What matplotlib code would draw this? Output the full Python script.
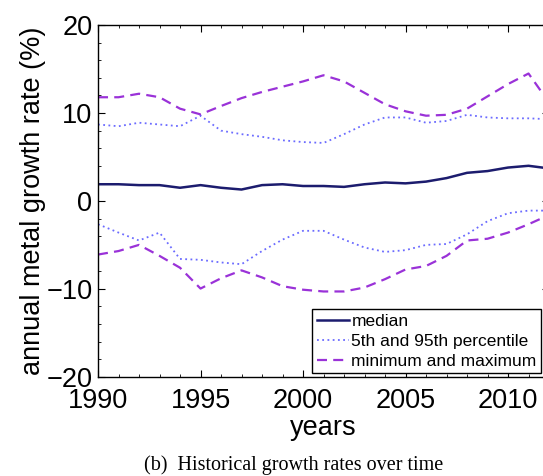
import matplotlib
matplotlib.use("Agg")
import matplotlib.pyplot as plt
from matplotlib.ticker import MultipleLocator

years = list(range(1990, 2013))
median = [1.9, 1.9, 1.8, 1.8, 1.5, 1.8, 1.5, 1.3, 1.8, 1.9, 1.7, 1.7, 1.6, 1.9, 2.1,
          2.0, 2.2, 2.6, 3.2, 3.4, 3.8, 4.0, 3.7]
p95 = [8.7, 8.5, 8.9, 8.7, 8.5, 9.7, 8.0, 7.6, 7.3, 6.9, 6.7, 6.6, 7.6, 8.7, 9.5,
       9.5, 8.9, 9.1, 9.8, 9.5, 9.4, 9.4, 9.3]
p5 = [-2.65, -3.6, -4.5, -3.6, -6.6, -6.7, -7.0, -7.2, -5.7, -4.4, -3.4, -3.4, -4.4,
      -5.3, -5.8, -5.6, -5.0, -4.9, -3.8, -2.3, -1.4, -1.1, -1.1]
vmax = [11.8, 11.8, 12.2, 11.8, 10.5, 9.85, 10.8, 11.7, 12.4, 13.0, 13.6, 14.3, 13.6,
        12.3, 11.0, 10.2, 9.7, 9.8, 10.5, 11.9, 13.3, 14.5, 11.2]
vmin = [-6.1, -5.7, -5.0, -6.25, -7.6, -9.97, -8.8, -7.9, -8.7, -9.7, -10.1, -10.3,
        -10.3, -9.85, -8.9, -7.8, -7.4, -6.25, -4.5, -4.3, -3.6, -2.65, -1.6]

plt.rcParams['font.family'] = ['Liberation Sans', 'DejaVu Sans']

fig = plt.figure(figsize=(5.43, 4.76), dpi=100)
ax = fig.add_axes([0.1805, 0.2086, 0.8306, 0.7385])

c_med = '#1c1c6e'
c_pct = '#6b6bff'
c_mm = '#9a32d8'
dot = (0, (1, 1.9))
dash = (0, (4.5, 2.8))

ax.plot(years, median, color=c_med, lw=1.8, label='median')
ax.plot(years, p95, color=c_pct, lw=1.3, ls=dot, label='5th and 95th percentile')
ax.plot(years, vmax, color=c_mm, lw=1.6, ls=dash, label='minimum and maximum')
ax.plot(years, p5, color=c_pct, lw=1.3, ls=dot)
ax.plot(years, vmin, color=c_mm, lw=1.6, ls=dash)

ax.set_xlim(1990, 2012)
ax.set_ylim(-20, 20)
ax.xaxis.set_major_locator(MultipleLocator(5))
ax.xaxis.set_minor_locator(MultipleLocator(1))
ax.yaxis.set_major_locator(MultipleLocator(10))
ax.yaxis.set_minor_locator(MultipleLocator(2))
ax.tick_params(which='both', direction='in', top=True, right=True, labelsize=19.5)
ax.tick_params(which='major', length=5, width=0.8)
ax.tick_params(which='minor', length=2.5, width=0.6)
ax.tick_params(axis='x', pad=8)
ax.tick_params(axis='y', pad=4)
ax.set_yticks([-20, -10, 0, 10, 20])
ax.set_yticklabels(['\u221220', '\u221210', '0', '10', '20'])
for s in ax.spines.values():
    s.set_linewidth(1.0)

ax.set_xlabel('years', fontsize=19.5, labelpad=0.5)
ax.set_ylabel('annual metal growth rate (%)', fontsize=19.5, labelpad=0)

leg = ax.legend(loc='lower right', fontsize=12.5, frameon=True, fancybox=False,
                edgecolor='black', framealpha=1, handlelength=1.85, handletextpad=0.15,
                borderpad=0.25, labelspacing=0.28, borderaxespad=0.2,
                bbox_to_anchor=(0.99, 0.0))
leg.get_frame().set_linewidth(1.0)

fig.text(0.5415, 0.003, '(b)  Historical growth rates over time', ha='center', va='bottom',
         fontsize=14.5, family='Liberation Serif')

fig.savefig('out.png', dpi=100)
